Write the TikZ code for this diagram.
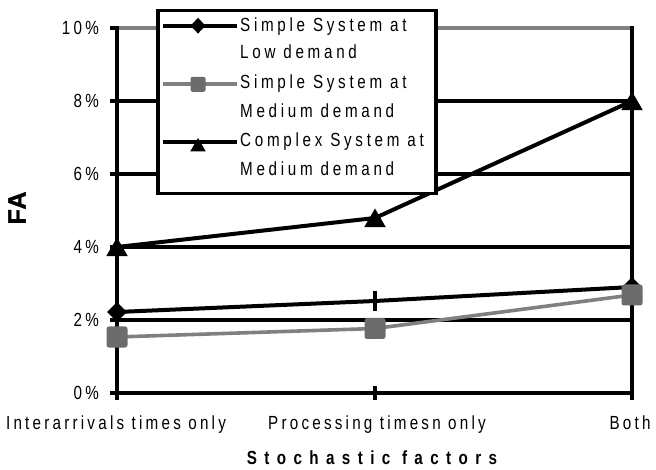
\documentclass[tikz,border=0pt]{standalone}
\usepackage{fontspec}
\setmainfont{Liberation Sans}
\newfontfamily\chartfont[FakeStretch=0.8,LetterSpace=17]{Liberation Sans}
\newfontfamily\legfont[FakeStretch=0.8,LetterSpace=19.5]{Liberation Sans}
\newfontfamily\titlefont[FakeStretch=0.8,LetterSpace=39]{Liberation Sans}
\newfontfamily\fafont[LetterSpace=4,FakeBold=1.5]{Liberation Sans}
\usetikzlibrary{shapes.geometric}
\definecolor{seriesgray}{RGB}{128,128,128}
\definecolor{markgray}{RGB}{108,108,108}
\begin{document}
\begin{tikzpicture}[x=1pt,y=-1pt,
  gridline/.style={line width=3.2pt},
  axisline/.style={line width=3.5pt},
  series/.style={line width=4pt,line join=round},
  grayseries/.style={series,line width=3.6pt,draw=seriesgray},
  dmark/.style={diamond,fill=black,inner sep=0pt,minimum width=20pt,minimum height=20pt},
  smark/.style={rectangle,rounded corners=2.5pt,fill=markgray,inner sep=0pt,minimum size=21pt},
  tmark/.style={regular polygon,regular polygon sides=3,fill=black,inner sep=0pt,minimum size=25pt,yshift=-3pt},
  ldmark/.style={dmark,minimum width=15pt,minimum height=16pt},
  lsmark/.style={smark,minimum size=15pt,rounded corners=2pt},
  ltmark/.style={tmark,minimum size=18pt,yshift=-2pt},
  ticklab/.style={anchor=east,inner sep=0pt,font=\chartfont\fontsize{19}{21}\selectfont},
  catlab/.style={anchor=base,inner sep=0pt,font=\chartfont\fontsize{19}{21}\selectfont},
  legtext/.style={anchor=base west,inner sep=0pt,font=\legfont\fontsize{19}{21}\selectfont}
]
\useasboundingbox (0,0) rectangle (656,470);

% grid lines
\draw[gridline,draw=seriesgray,line width=3.4pt] (117,28) -- (632,28);
\foreach \yy in {101,174,247,320} \draw[gridline] (117,\yy) -- (632,\yy);
% left ticks
\foreach \yy in {28,101,174,247,320,393} \draw[axisline] (110,\yy) -- (117,\yy);
% axes
\draw[axisline] (117,26.3) -- (117,400);
\draw[axisline] (632,26.3) -- (632,400);
\draw[axisline,line width=3.8pt] (115.3,393) -- (633.7,393);
\draw[axisline] (375,386) -- (375,400);

% tick labels
\node[ticklab] (t10) at (99,28) {10\%};
\node[ticklab] (t8) at (99,101) {8\%};
\node[ticklab] (t6) at (99,174) {6\%};
\node[ticklab] (t4) at (99,247) {4\%};
\node[ticklab] (t2) at (99,320) {2\%};
\node[ticklab] (t0) at (99,393) {0\%};

% category labels
\node[catlab] (c1) at (116,429) {Interarrivals times only};
\node[catlab] (c2) at (377,429) {Processing timesn only};
\node[catlab] (c3) at (630,429) {Both};
\node[anchor=base,inner sep=0pt,font=\titlefont\bfseries\fontsize{19}{21}\selectfont] (xt) at (372,464) {Stochastic factors};
\node[rotate=90,inner sep=0pt,font=\fafont\bfseries\fontsize{25}{27}\selectfont] (yt) at (17,208) {FA};

% data points
\coordinate (a1) at (117,312);
\coordinate (a2) at (375,301);
\coordinate (a3) at (632,287);
\coordinate (b1) at (117,337);
\coordinate (b2) at (375,328.5);
\coordinate (b3) at (632,295);
\coordinate (c1p) at (117,247);
\coordinate (c2p) at (375,218);
\coordinate (c3p) at (632,101);

% low demand series
\draw[series] (a1) -- (a2) -- (a3);
\node[dmark] (ma1) at (a1) {};
\node[dmark] (ma3) at (a3) {};
\draw[axisline,line width=3.8pt] ([yshift=10pt]a2) -- ([yshift=-10pt]a2);
% medium demand series
\draw[grayseries] (b1) -- (b2) -- (b3);
\node[smark] (mb1) at (b1) {};
\node[smark] (mb2) at (b2) {};
\node[smark] (mb3) at (b3) {};
% complex series
\draw[series] (c1p) -- (c2p) -- (c3p);
\node[tmark] (mc1) at (c1p) {};
\node[tmark] (mc2) at (c2p) {};
\node[tmark] (mc3) at (c3p) {};

% legend
\node[draw,line width=3.5pt,fill=white,anchor=north west,minimum width=278pt,minimum height=183pt,inner sep=0pt] (legend) at (156,9) {};
\coordinate (l1a) at (163,25.7);
\coordinate (l1b) at (237,25.7);
\coordinate (l2a) at (163,84.3);
\coordinate (l2b) at (237,84.3);
\coordinate (l3a) at (163,142);
\coordinate (l3b) at (237,142);
\draw[series] (l1a) -- (l1b);
\node[ldmark] (lm1) at (198,25.7) {};
\draw[grayseries] (l2a) -- (l2b);
\node[lsmark] (lm2) at (198,84.3) {};
\draw[series] (l3a) -- (l3b);
\node[ltmark] (lm3) at (198,142) {};
\node[legtext] (lt1) at (240,31.7) {Simple System at};
\node[legtext] (lt2) at (240,59) {Low demand};
\node[legtext] (lt3) at (240,88.3) {Simple System at};
\node[legtext] (lt4) at (240,117.3) {Medium demand};
\node[legtext] (lt5) at (240,147) {Complex System at};
\node[legtext] (lt6) at (240,175.7) {Medium demand};
\end{tikzpicture}
\end{document}
